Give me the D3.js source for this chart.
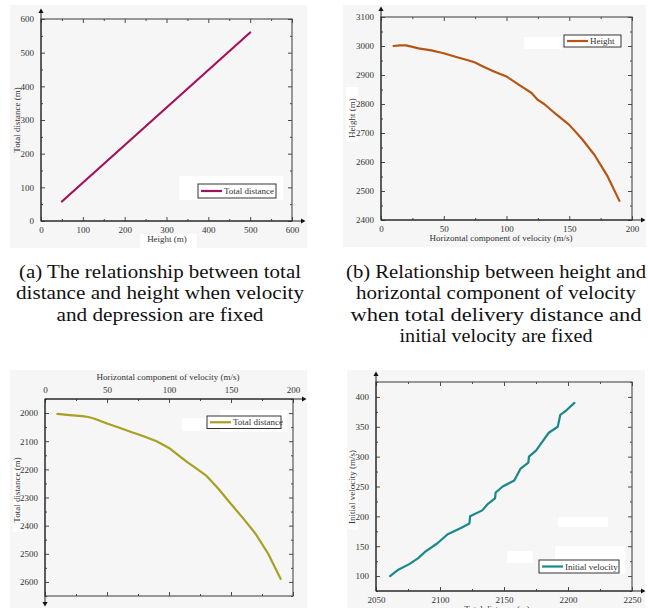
<!DOCTYPE html>
<html>
<head>
<meta charset="UTF-8">
<title>Delivery charts</title>
<script src="https://d3js.org/d3.v7.min.js"></script>
<style>
  body { margin: 0; background: #fff; }
</style>
</head>
<body>
<div id="svg-container"></div>
<script type="text/javascript">
// (a) total distance vs height
let heightA = [50, 500];
let distA = [58, 560];

// (b) height vs horizontal velocity
let velB = [10, 15, 20, 30, 40, 50, 60, 70, 75, 80, 90, 100, 110, 120, 125, 130, 140, 150, 160, 170, 180, 190];
let heightB = [3000, 3002, 3002, 2992, 2985, 2975, 2962, 2950, 2943, 2932, 2912, 2895, 2866, 2838, 2814, 2800, 2763, 2728, 2680, 2625, 2555, 2466];

// (c) total distance vs horizontal velocity
let velC = [10, 20, 30, 35, 40, 50, 60, 70, 75, 80, 90, 100, 110, 115, 120, 130, 140, 150, 160, 170, 180, 190];
let distC = [2003, 2007, 2011, 2014, 2020, 2037, 2052, 2068, 2075, 2083, 2100, 2124, 2158, 2175, 2190, 2222, 2270, 2323, 2375, 2430, 2500, 2589];

// (d) initial velocity vs total distance
let distD = [2061, 2067, 2076, 2083, 2088, 2098, 2106, 2116, 2123, 2123.5, 2133, 2137, 2143, 2143.5, 2149, 2158, 2163, 2169, 2169.5, 2175, 2180, 2185, 2192, 2194, 2199, 2205];
let velD = [100, 110, 120, 130, 140, 155, 170, 180, 188, 200, 210, 220, 230, 240, 250, 260, 280, 290, 300, 310, 325, 340, 350, 370, 378, 390];

let captionA = ["(a) The relationship between total", "distance and height when velocity", "and depression are fixed"];
let captionB = ["(b) Relationship between height and", "horizontal component of velocity", "when total delivery distance and", "initial velocity are fixed"];
// widths the caption lines take in the reference
let captionAWidths = [282, 288, 207];
let captionBWidths = [300, 280, 291, 193];

let serif = '"Liberation Serif", "DejaVu Serif", serif';

let svg = d3.select("#svg-container")
  .append("svg")
  .attr("width", 648)
  .attr("height", 608)
  .attr("font-family", serif);

let axisColor = "#4a4a4a";

function arrow(g, x, y, dir) {
  let s = 4.5, w = 2.6, pts;
  if (dir === "up") pts = [[x, y - s], [x - w, y], [x + w, y]];
  if (dir === "down") pts = [[x, y + s], [x - w, y], [x + w, y]];
  if (dir === "right") pts = [[x + s, y], [x, y - w], [x, y + w]];
  g.append("path").attr("d", "M" + pts.join("L") + "Z").attr("fill", "#111");
}

function styleAxis(a) {
  a.attr("font-family", serif);
  a.select(".domain").remove();
  a.selectAll(".tick line").attr("stroke", axisColor).attr("stroke-width", 1);
  a.selectAll(".tick text").attr("fill", "#333").attr("font-size", 9);
}

function panel(p) {
  let g = svg.append("g");
  g.append("rect").attr("x", p.bg[0]).attr("y", p.bg[1])
    .attr("width", p.bg[2] - p.bg[0]).attr("height", p.bg[3] - p.bg[1]).attr("fill", "#f6f6f6");
  (p.blanks || []).forEach(b => g.append("rect").attr("x", b[0]).attr("y", b[1])
    .attr("width", b[2]).attr("height", b[3]).attr("fill", "#fff"));

  let [l, t, r, b] = p.frame;
  let x = d3.scaleLinear().domain(p.xDomain).range([l, r]);
  let y = d3.scaleLinear().domain(p.yDomain).range(p.yFlip ? [t, b] : [b, t]);

  let xt = d3.range(p.xDomain[0], p.xDomain[1] + 0.01, p.xStep);
  let xm = d3.range(p.xDomain[0], p.xDomain[1] + 0.01, p.xStep / 2).filter(v => !xt.includes(v));
  let yStart = Math.ceil(p.yDomain[0] / p.yStep) * p.yStep;
  let yt = d3.range(yStart, p.yDomain[1] + 0.01, p.yStep);
  let ym = d3.range(yStart - p.yStep / 2, p.yDomain[1] + 0.01, p.yStep / 2)
    .filter(v => !yt.includes(v) && v >= p.yDomain[0]);

  let xLabelAxis = p.xTop ? d3.axisTop(x) : d3.axisBottom(x);
  let xLabelY = p.xTop ? t : b;
  styleAxis(g.append("g").attr("transform", `translate(0,${xLabelY})`)
    .call(xLabelAxis.tickValues(xt).tickSizeInner(-4).tickSizeOuter(0).tickPadding(6).tickFormat(d3.format("d"))));
  styleAxis(g.append("g").attr("transform", `translate(0,${p.xTop ? b : t})`)
    .call((p.xTop ? d3.axisBottom(x) : d3.axisTop(x)).tickValues(xt).tickSizeInner(-4).tickSizeOuter(0).tickFormat("")));
  [b, t].forEach(yy => styleAxis(g.append("g").attr("transform", `translate(0,${yy})`)
    .call((yy === b ? d3.axisBottom(x) : d3.axisTop(x)).tickValues(xm).tickSizeInner(-2).tickSizeOuter(0).tickFormat(""))));

  styleAxis(g.append("g").attr("transform", `translate(${l},0)`)
    .call(d3.axisLeft(y).tickValues(yt).tickSizeInner(-4).tickSizeOuter(0).tickPadding(7).tickFormat(d3.format("d"))));
  styleAxis(g.append("g").attr("transform", `translate(${r},0)`)
    .call(d3.axisRight(y).tickValues(yt).tickSizeInner(-4).tickSizeOuter(0).tickFormat("")));
  [l, r].forEach(xx => styleAxis(g.append("g").attr("transform", `translate(${xx},0)`)
    .call((xx === l ? d3.axisLeft(y) : d3.axisRight(y)).tickValues(ym).tickSizeInner(-2).tickSizeOuter(0).tickFormat(""))));

  // frame
  g.append("rect").attr("x", l).attr("y", t).attr("width", r - l).attr("height", b - t)
    .attr("fill", "none").attr("stroke", axisColor).attr("stroke-width", 1.1);

  // arrowed axes
  let ax = g.append("g");
  if (p.xTop) {
    ax.append("line").attr("x1", l).attr("x2", r + 9).attr("y1", t).attr("y2", t).attr("stroke", "#222");
    arrow(ax, r + 9, t, "right");
    ax.append("line").attr("x1", l).attr("x2", l).attr("y1", t).attr("y2", b + 6).attr("stroke", "#222");
    arrow(ax, l, b + 6, "down");
  } else {
    ax.append("line").attr("x1", l).attr("x2", r + 9).attr("y1", b).attr("y2", b).attr("stroke", "#222");
    arrow(ax, r + 9, b, "right");
    ax.append("line").attr("x1", l).attr("x2", l).attr("y1", b).attr("y2", t - 6).attr("stroke", "#222");
    arrow(ax, l, t - 6, "up");
  }

  // data line
  let pts = p.xs.map((v, i) => [v, p.ys[i]]);
  g.append("path").datum(pts)
    .attr("d", d3.line().x(d => x(d[0])).y(d => y(d[1])))
    .attr("fill", "none").attr("stroke", p.color).attr("stroke-width", 2.2)
    .attr("stroke-linejoin", "round").attr("stroke-linecap", "round");

  // titles
  g.append("text").attr("x", p.xTitle[0]).attr("y", p.xTitle[1]).attr("text-anchor", "middle")
    .attr("font-size", 9).attr("fill", "#333").text(p.xLabel);
  g.append("text").attr("transform", `translate(${p.yTitle[0]},${p.yTitle[1]}) rotate(-90)`)
    .attr("text-anchor", "middle").attr("font-size", 9).attr("fill", "#333").text(p.yLabel);

  // legend
  let [lx, ly, lw, lh] = p.legend;
  g.append("rect").attr("x", lx).attr("y", ly).attr("width", lw).attr("height", lh)
    .attr("fill", "#fff").attr("stroke", "#333").attr("stroke-width", 1);
  g.append("line").attr("x1", lx + 3).attr("x2", lx + 24).attr("y1", ly + lh / 2).attr("y2", ly + lh / 2)
    .attr("stroke", p.color).attr("stroke-width", 2.2);
  g.append("text").attr("x", lx + 26).attr("y", ly + lh / 2 + 3).attr("font-size", 9)
    .attr("fill", "#333").text(p.name);
}

panel({
  bg: [10, 5, 307, 248], frame: [41, 19, 292, 221],
  xDomain: [0, 600], yDomain: [0, 600], xStep: 100, yStep: 100,
  xs: heightA, ys: distA, color: "#a3125e", name: "Total distance",
  xLabel: "Height (m)", yLabel: "Total distance (m)",
  xTitle: [167, 242], yTitle: [20, 120],
  legend: [198, 184, 78, 14],
  blanks: [[179, 176, 104, 24], [140, 234, 57, 14]]
});

panel({
  bg: [343, 5, 646, 247], frame: [381, 17, 632, 220],
  xDomain: [0, 200], yDomain: [2400, 3100], xStep: 50, yStep: 100,
  xs: velB, ys: heightB, color: "#b65512", name: "Height",
  xLabel: "Horizontal component of velocity (m/s)", yLabel: "Height (m)",
  xTitle: [501, 241], yTitle: [355, 118],
  legend: [564, 35, 57, 12],
  blanks: [[524, 37, 38, 12], [346, 87, 12, 55]]
});

panel({
  bg: [10, 370, 307, 608], frame: [45, 399, 293, 596], xTop: true, yFlip: true,
  xDomain: [0, 200], yDomain: [1950, 2650], xStep: 50, yStep: 100,
  xs: velC, ys: distC, color: "#a7a021", name: "Total distance",
  xLabel: "Horizontal component of velocity (m/s)", yLabel: "Total distance (m)",
  xTitle: [168, 380], yTitle: [20, 490],
  legend: [207, 416, 74, 12.5],
  blanks: [[182, 418, 25, 13], [220, 410, 67, 22], [13, 460, 9, 72]]
});

panel({
  bg: [347, 370, 645, 608], frame: [376, 382, 632, 591],
  xDomain: [2050, 2250], yDomain: [75, 425], xStep: 50, yStep: 50,
  xs: distD, ys: velD, color: "#19888a", name: "Initial velocity",
  xLabel: "Total distance (m)", yLabel: "Initial velocity (m/s)",
  xTitle: [497, 612], yTitle: [355, 487],
  legend: [539, 560, 80, 13],
  blanks: [[558, 517, 50, 10], [507, 551, 26, 12], [555, 546, 70, 28], [348, 450, 10, 80]]
});

// captions
[[captionA, captionAWidths, 160], [captionB, captionBWidths, 496]].forEach(([lines, widths, cx]) => {
  svg.append("text").attr("text-anchor", "middle").attr("font-size", 18.5).attr("fill", "#111")
    .selectAll("tspan").data(lines).join("tspan")
    .attr("x", cx).attr("y", (d, i) => 278 + i * 21.3)
    .attr("textLength", (d, i) => widths[i]).attr("lengthAdjust", "spacingAndGlyphs")
    .text(d => d);
});
</script>
</body>
</html>
